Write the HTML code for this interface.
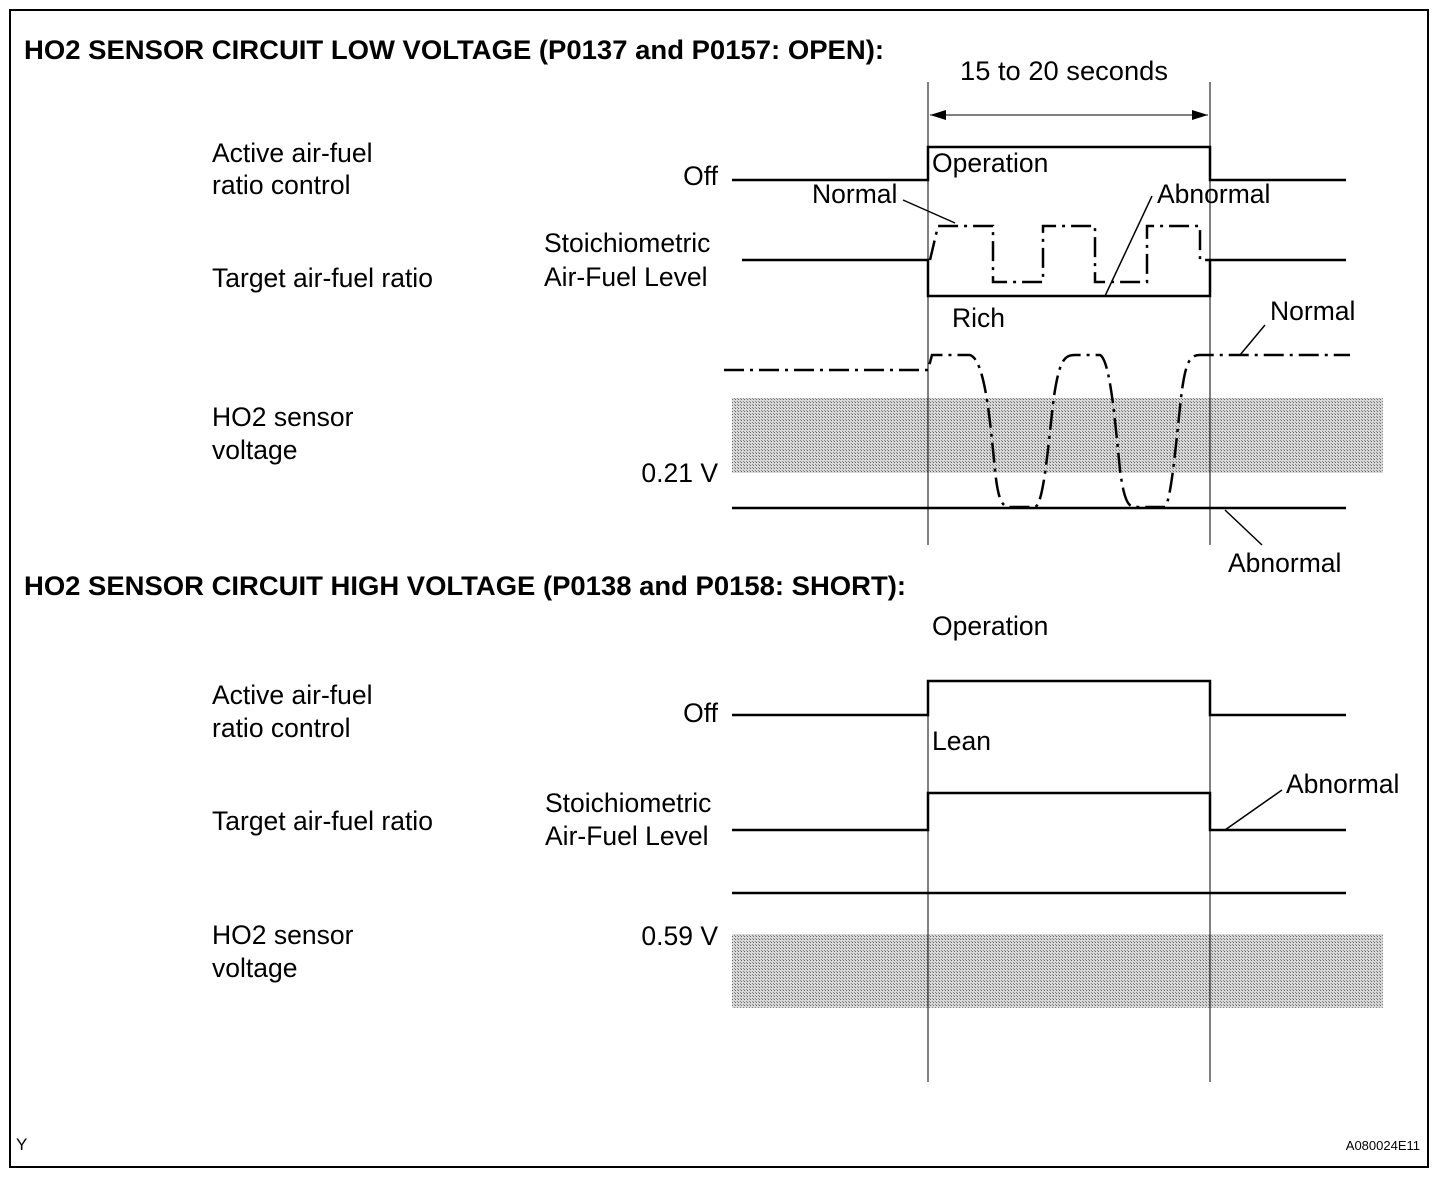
<!DOCTYPE html>
<html><head><meta charset="utf-8"><style>
html,body{margin:0;padding:0;background:#fff;}
svg{display:block;}
text{font-family:"Liberation Sans",Arial,sans-serif;fill:#000;}
</style></head><body>
<svg width="1456" height="1180" viewBox="0 0 1456 1180" xmlns="http://www.w3.org/2000/svg">
<defs>
<pattern id="st" width="3" height="3" patternUnits="userSpaceOnUse">
<rect width="3" height="3" fill="#d8d8d8"/><rect width="1" height="1" fill="#666"/><rect x="2" y="2" width="1" height="1" fill="#888"/>
</pattern>
</defs>
<rect x="10" y="10" width="1418" height="1157" fill="none" stroke="#000" stroke-width="2"/>
<g font-size="26.5" textLength="">
<text x="24" y="59" font-weight="bold" textLength="860" lengthAdjust="spacingAndGlyphs">HO2 SENSOR CIRCUIT LOW VOLTAGE (P0137 and P0157: OPEN):</text>
<text x="960" y="80" textLength="208" lengthAdjust="spacingAndGlyphs">15 to 20 seconds</text>
<text x="212" y="162">Active air-fuel</text>
<text x="212" y="194">ratio control</text>
<text x="718" y="185" text-anchor="end">Off</text>
<text x="932" y="172">Operation</text>
<text x="812" y="203">Normal</text>
<text x="1157" y="203">Abnormal</text>
<text x="544" y="252">Stoichiometric</text>
<text x="544" y="286">Air-Fuel Level</text>
<text x="212" y="287">Target air-fuel ratio</text>
<text x="952" y="327">Rich</text>
<text x="1270" y="320">Normal</text>
<text x="212" y="426">HO2 sensor</text>
<text x="212" y="459">voltage</text>
<text x="718" y="482" text-anchor="end">0.21 V</text>
<text x="1228" y="572">Abnormal</text>

<text x="24" y="595" font-weight="bold" textLength="882" lengthAdjust="spacingAndGlyphs">HO2 SENSOR CIRCUIT HIGH VOLTAGE (P0138 and P0158: SHORT):</text>
<text x="932" y="635">Operation</text>
<text x="212" y="704">Active air-fuel</text>
<text x="212" y="737">ratio control</text>
<text x="718" y="722" text-anchor="end">Off</text>
<text x="932" y="750">Lean</text>
<text x="545" y="812">Stoichiometric</text>
<text x="545" y="845">Air-Fuel Level</text>
<text x="212" y="830">Target air-fuel ratio</text>
<text x="1286" y="793">Abnormal</text>
<text x="212" y="944">HO2 sensor</text>
<text x="212" y="977">voltage</text>
<text x="718" y="945" text-anchor="end">0.59 V</text>
</g>
<text x="16" y="1150" font-size="17">Y</text>
<text x="1420" y="1150" font-size="13" text-anchor="end">A080024E11</text>

<rect x="732" y="398" width="651" height="75" fill="url(#st)"/>
<rect x="732" y="934" width="651" height="74" fill="url(#st)"/>

<g stroke="#000" stroke-width="1" fill="none">
<line x1="928" y1="82" x2="928" y2="545"/>
<line x1="1210" y1="82" x2="1210" y2="545"/>
<line x1="928" y1="680" x2="928" y2="1082"/>
<line x1="1210" y1="680" x2="1210" y2="1082"/>
<line x1="930" y1="115" x2="1208" y2="115"/>
<line x1="903" y1="200" x2="955" y2="223" stroke-width="1.5"/>
<line x1="1152" y1="196" x2="1105" y2="296" stroke-width="1.5"/>
<line x1="1265" y1="325" x2="1240" y2="355" stroke-width="1.5"/>
<line x1="1225" y1="510" x2="1262" y2="545" stroke-width="1.5"/>
<line x1="1282" y1="790" x2="1225" y2="830" stroke-width="1.5"/>
</g>
<path d="M930 115 l16 -5 v10z M1208 115 l-16 -5 v10z" fill="#000"/>

<g stroke="#000" stroke-width="2.5" fill="none">
<polyline points="732,180 928,180 928,147 1210,147 1210,180 1346,180"/>
<polyline points="742,260 928,260 928,296 1210,296 1210,260 1346,260"/>
<line x1="732" y1="508" x2="1346" y2="508"/>
<polyline points="732,715 928,715 928,681 1210,681 1210,715 1346,715"/>
<polyline points="732,830 928,830 928,793 1210,793 1210,830 1346,830"/>
<line x1="732" y1="893" x2="1346" y2="893"/>
</g>
<g stroke="#000" stroke-width="2.5" fill="none" stroke-dasharray="20 6 3 6">
<polyline points="930,260 938,226 993,226 993,282 1043,282 1043,226 1095,226 1095,282 1147,282 1147,226 1200,226 1200,260 1210,260"/>
<path d="M724,370 L928,370 L932,355 L970,355 C985,360 990,420 995,470 C998,500 1002,507 1010,507 L1035,507 C1045,505 1050,420 1055,390 C1060,360 1065,355 1075,355 L1100,355 C1110,360 1115,420 1120,470 C1124,500 1128,507 1135,507 L1165,507 C1172,500 1178,420 1182,390 C1186,362 1190,355 1200,355 L1350,355"/>
</g>
</svg>
</body></html>
